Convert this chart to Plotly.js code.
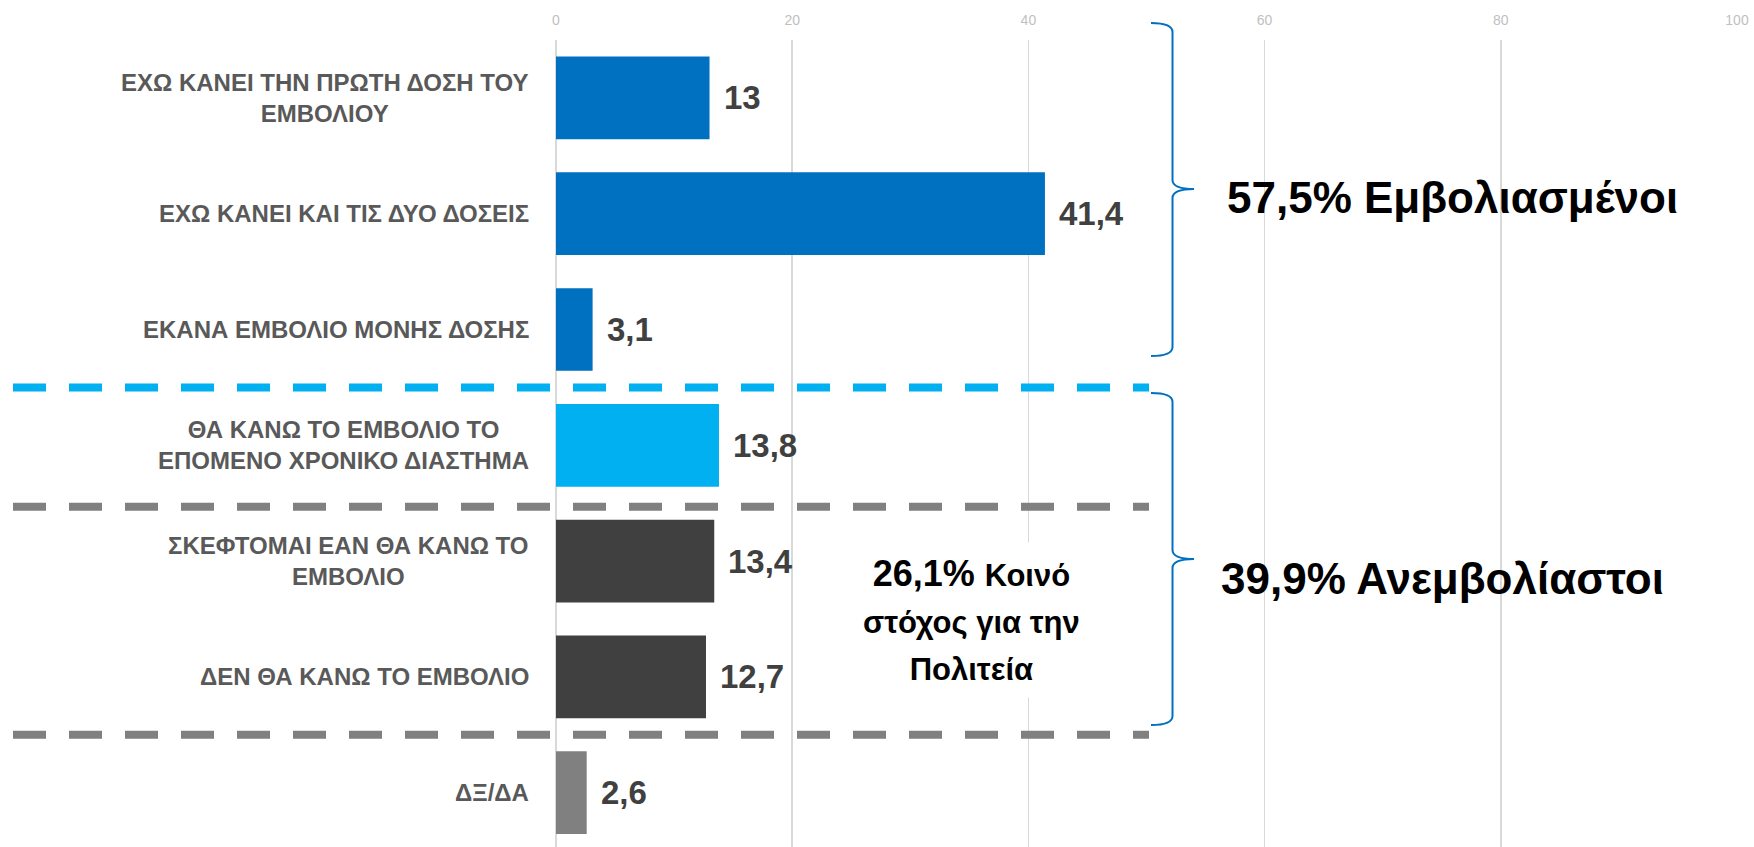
<!DOCTYPE html>
<html>
<head>
<meta charset="utf-8">
<script src="https://cdn.plot.ly/plotly-3.0.1.min.js"></script>
<style>
  html, body { margin: 0; padding: 0; background: #ffffff; }
  #chart { width: 1754px; height: 847px; }
</style>
</head>
<body>
<div id="chart"></div>
<script>
// ---- data ----
const categories = [
  "ΕΧΩ ΚΑΝΕΙ ΤΗΝ ΠΡΩΤΗ ΔΟΣΗ ΤΟΥ<br>ΕΜΒΟΛΙΟΥ",
  "ΕΧΩ ΚΑΝΕΙ ΚΑΙ ΤΙΣ ΔΥΟ ΔΟΣΕΙΣ",
  "ΕΚΑΝΑ ΕΜΒΟΛΙΟ ΜΟΝΗΣ ΔΟΣΗΣ",
  "ΘΑ ΚΑΝΩ ΤΟ ΕΜΒΟΛΙΟ ΤΟ<br>ΕΠΟΜΕΝΟ ΧΡΟΝΙΚΟ ΔΙΑΣΤΗΜΑ",
  "ΣΚΕΦΤΟΜΑΙ ΕΑΝ ΘΑ ΚΑΝΩ ΤΟ<br>ΕΜΒΟΛΙΟ",
  "ΔΕΝ ΘΑ ΚΑΝΩ ΤΟ ΕΜΒΟΛΙΟ",
  "ΔΞ/ΔΑ"
];
const values = [13, 41.4, 3.1, 13.8, 13.4, 12.7, 2.6];
const barColors = ["#0070C0", "#0070C0", "#0070C0", "#00B0F0", "#404040", "#404040", "#808080"];
const xTickValues = [0, 20, 40, 60, 80, 100];
const groupLabels = ["57,5% Εμβολιασμένοι", "39,9% Ανεμβολίαστοι"];
const noteText = "26,1% Κοινό στόχος για την Πολιτεία";
// separators between groups (after these category indices)
const separatorsAfter = [2, 3, 5];
const separatorColors = ["#00B0F0", "#808080", "#808080"];

// ---- layout geometry ----
const W = 1754, H = 847;
const M = {l: 556, r: 17, t: 40, b: 0};
const plotW = W - M.l - M.r, plotH = H - M.t - M.b;
const yRange = [6.469, -0.5];
const FONT = "Liberation Sans, Arial, sans-serif";

function pxX(px) { return (px - M.l) / plotW; }
function pxY(py) { return 1 - (py - M.t) / plotH; }
function catY(c) { return (yRange[0] - c) / (yRange[0] - yRange[1]); }
function paperToPxY(p) { return M.t + (1 - p) * plotH; }

function bracePath(xl, xm, xt, top, tip, bot) {
  const r = 9;
  const P = (x, y) => pxX(x).toFixed(5) + "," + pxY(y).toFixed(5);
  return "M" + P(xl, top) +
    " Q" + P(xm, top) + " " + P(xm, top + r) +
    " L" + P(xm, tip - r) +
    " Q" + P(xm, tip) + " " + P(xt, tip) +
    " Q" + P(xm, tip) + " " + P(xm, tip + r) +
    " L" + P(xm, bot - r) +
    " Q" + P(xm, bot) + " " + P(xl, bot);
}

const idx = categories.map((_, i) => i);

const trace = {
  type: "bar",
  orientation: "h",
  y: idx,
  x: values,
  marker: {color: barColors},
  hoverinfo: "none",
  cliponaxis: false
};

const annotations = [];
// category labels (centered multi-line, right aligned block)
categories.forEach((c, i) => {
  annotations.push({
    xref: "paper", yref: "y", x: pxX(531), y: i,
    xanchor: "right", yanchor: "middle", align: "center",
    text: "<b>" + c + "</b>", showarrow: false,
    font: {family: FONT, size: 24, color: "#595959"}
  });
});
// data labels
values.forEach((v, i) => {
  annotations.push({
    xref: "x", yref: "y", x: v, y: i,
    xanchor: "left", yanchor: "middle", xshift: 12,
    text: "<b>" + String(v).replace(".", ",") + "</b>", showarrow: false,
    font: {family: FONT, size: 33, color: "#404040"}
  });
});
// group labels
annotations.push({
  xref: "paper", yref: "paper", x: pxX(1225), y: pxY(197),
  xanchor: "left", yanchor: "middle", showarrow: false,
  text: "<b>" + groupLabels[0] + "</b>",
  font: {family: FONT, size: 44, color: "#000000"}
});
annotations.push({
  xref: "paper", yref: "paper", x: pxX(1219), y: pxY(578),
  xanchor: "left", yanchor: "middle", showarrow: false,
  text: "<b>" + groupLabels[1] + "</b>",
  font: {family: FONT, size: 44, color: "#000000"}
});
// note box
const noteParts = noteText.split(" ");
annotations.push({
  xref: "paper", yref: "paper", x: pxX(971), y: pxY(620),
  xanchor: "center", yanchor: "middle", align: "center", showarrow: false,
  bgcolor: "#ffffff", borderpad: 10,
  text: "<b>" + noteParts[0] + " <span style='font-size:31px'>" + noteParts[1] + "</span></b><br>" +
        "<b><span style='font-size:31px'>" + noteParts.slice(2, 5).join(" ") + "</span></b><br>" +
        "<b><span style='font-size:31px'>" + noteParts[5] + "</span></b>",
  font: {family: FONT, size: 36, color: "#000000"}
});

const shapes = [];
separatorsAfter.forEach((s, k) => {
  const yp = catY(s + 0.5 + (k === 1 ? 0.03 : 0));
  shapes.push({
    type: "line", xref: "paper", yref: "paper",
    x0: pxX(13), x1: pxX(1149), y0: yp, y1: yp,
    line: {color: separatorColors[k], width: 8, dash: "33px,23px"},
    layer: "above"
  });
});
// braces
shapes.push({
  type: "path", xref: "paper", yref: "paper", layer: "above",
  path: bracePath(1151, 1172.5, 1194, 23, 189, 356),
  line: {color: "#0070C0", width: 2}
});
shapes.push({
  type: "path", xref: "paper", yref: "paper", layer: "above",
  path: bracePath(1151, 1172.5, 1194, 393, 559, 725),
  line: {color: "#0070C0", width: 2}
});

const layout = {
  width: W, height: H,
  margin: M,
  paper_bgcolor: "#ffffff",
  plot_bgcolor: "#ffffff",
  showlegend: false,
  bargap: 0.286,
  font: {family: FONT},
  xaxis: {
    side: "top",
    range: [0, 100],
    tickvals: xTickValues,
    ticktext: xTickValues.map(String),
    showgrid: true, gridcolor: "#D9D9D9", gridwidth: 1.5,
    zeroline: true, zerolinecolor: "#D9D9D9", zerolinewidth: 1.5,
    showline: false,
    ticks: "outside", ticklen: 8, tickcolor: "rgba(0,0,0,0)",
    tickfont: {family: FONT, size: 14, color: "#BFBFBF"},
    fixedrange: true
  },
  yaxis: {
    type: "linear",
    range: yRange,
    showticklabels: false,
    showgrid: false, zeroline: false, showline: false,
    ticks: "",
    fixedrange: true
  },
  annotations: annotations,
  shapes: shapes
};

Plotly.newPlot("chart", [trace], layout, {displayModeBar: false, staticPlot: true});
</script>
</body>
</html>
